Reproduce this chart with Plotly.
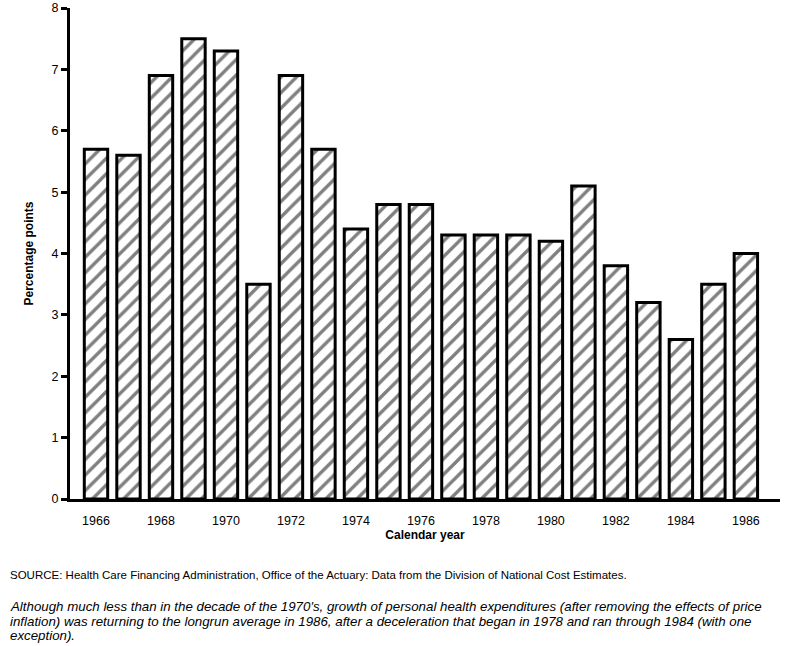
import plotly.graph_objects as go

years = list(range(1966, 1987))
growth = [5.7, 5.6, 6.9, 7.5, 7.3, 3.5, 6.9, 5.7, 4.4, 4.8, 4.8,
          4.3, 4.3, 4.3, 4.2, 5.1, 3.8, 3.2, 2.6, 3.5, 4.0]
year_ticks = list(range(1966, 1987, 2))
y_ticks = list(range(0, 9))

source_text = ("SOURCE: Health Care Financing Administration, Office of the Actuary: "
               "Data from the Division of National Cost Estimates.")
caption_lines = [
    "Although much less than in the decade of the 1970's, growth of personal "
    "health expenditures (after removing the effects of price",
    "inflation) was returning to the longrun average in 1986, after a deceleration "
    "that began in 1978 and ran through 1984 (with one",
    "exception).",
]

W, H = 790, 646
L, R, T, B = 70, 10, 8, 147
plot_w = W - L - R
plot_h = H - T - B


def px_x(px):
    return (px - L) / plot_w


def px_y(py):
    return (H - B - py) / plot_h


fig = go.Figure(
    go.Bar(
        x=years,
        y=growth,
        width=0.72,
        marker=dict(
            color="white",
            line=dict(color="black", width=3),
            pattern=dict(shape="/", fgcolor="black", bgcolor="white",
                         size=11, solidity=0.3),
        ),
    )
)

fig.update_layout(
    width=W,
    height=H,
    margin=dict(l=L, r=R, t=T, b=B, autoexpand=False),
    plot_bgcolor="white",
    paper_bgcolor="white",
    font=dict(family="Liberation Sans", color="black", size=12),
    showlegend=False,
)

fig.update_xaxes(
    range=[1965.2, 1987.05],
    tickvals=year_ticks,
    ticktext=[str(y) for y in year_ticks],
    showline=True,
    linecolor="black",
    linewidth=3,
    ticks="outside",
    ticklen=8,
    tickcolor="rgba(0,0,0,0)",
    showgrid=False,
    zeroline=False,
    automargin=False,
    tickfont=dict(size=12.5),
    title=dict(text="<b>Calendar year</b>", font=dict(size=12), standoff=1),
)

fig.update_yaxes(
    range=[0, 8],
    tickvals=y_ticks,
    showline=True,
    linecolor="black",
    linewidth=3,
    ticks="outside",
    ticklen=6,
    tickwidth=3,
    tickcolor="black",
    showgrid=False,
    zeroline=False,
    automargin=False,
    tickfont=dict(size=12.5),
    title=dict(text="<b>Percentage points</b>", font=dict(size=12), standoff=16),
)

fig.add_annotation(
    text=source_text, xref="paper", yref="paper",
    x=px_x(8), y=px_y(575), xanchor="left", yanchor="middle",
    showarrow=False, align="left", font=dict(size=11.5),
)
for i, line in enumerate(caption_lines):
    fig.add_annotation(
        text="<i>" + line + "</i>", xref="paper", yref="paper",
        x=px_x(8), y=px_y(606 + 15 * i), xanchor="left", yanchor="middle",
        showarrow=False, align="left", font=dict(size=13.3),
    )

fig.write_html("out.html", config={"displayModeBar": False},
               post_script="document.body.style.margin='0';")
